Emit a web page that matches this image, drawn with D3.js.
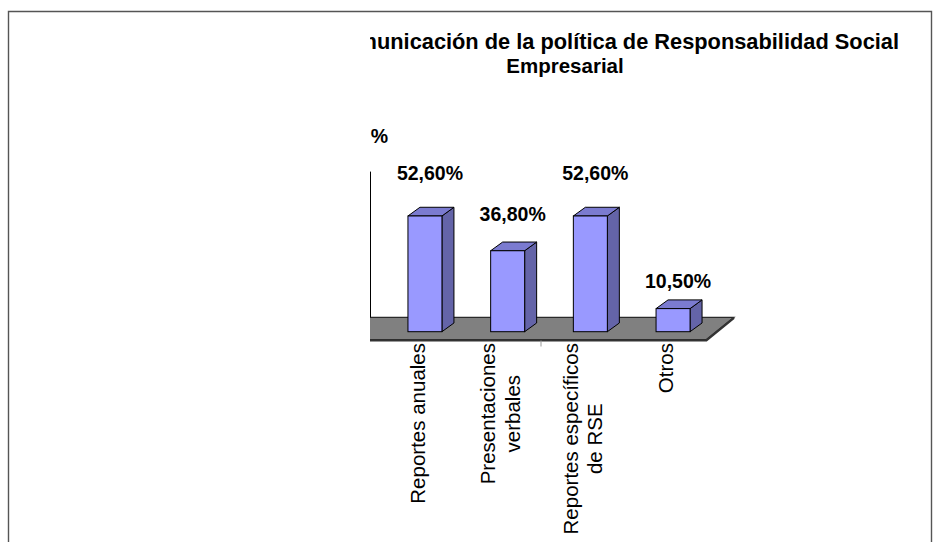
<!DOCTYPE html>
<html>
<head>
<meta charset="utf-8">
<script src="https://cdn.jsdelivr.net/npm/d3@7"></script>
<style>
  html, body { margin: 0; padding: 0; background: #fff; }
  svg { display: block; font-family: "Liberation Sans", Arial, sans-serif; }
</style>
</head>
<body>
<svg id="chart" width="942" height="542"></svg>
<script>
// Chart data
const categories = ["Reportes anuales", "Presentaciones verbales", "Reportes específicos de RSE", "Otros"];
const categoryLines = [["Reportes anuales"], ["Presentaciones", "verbales"], ["Reportes específicos", "de RSE"], ["Otros"]];
const values = [52.6, 36.8, 52.6, 10.5];
const titleLines = ["Comunicación de la política de Responsabilidad Social", "Empresarial"];
const yAxisTitle = "%";

const svg = d3.select("#chart");
const fmt = v => v.toFixed(2).replace(".", ",") + "%";

// Outer frame
svg.append("path")
  .attr("d", "M8.5,542 V11.5 H931.5 V542")
  .attr("fill", "none").attr("stroke", "#555").attr("stroke-width", 1.4);

// Visible chart region
svg.append("defs").append("clipPath").attr("id", "vis")
  .append("rect").attr("x", 370).attr("y", 0).attr("width", 572).attr("height", 542);
const g = svg.append("g").attr("clip-path", "url(#vis)");

// Scales (front plane of the columns)
const x = d3.scaleBand().domain(categories).range([383.6, 714.4]).padding(0);
const y = d3.scaleLinear().domain([0, 66]).range([331.7, 186.5]);
// Label scale: labels sit a little higher in the projected space
const yLabel = d3.scaleLinear().domain([0, 66]).range([314.7, 314.7 - 66 * 2.556]);

const barW = 34;
const depth = { dx: 12, dy: -8.7 };
const floorFront = { dx: -8, dy: 7.8 };
const floorBack = { dx: 19.6, dy: -14.4 };
const [x0, x1] = x.range();
const base = y(0);

// Floor
g.append("path")
  .attr("d", `M300,${base + floorBack.dy} L${x1 + floorBack.dx},${base + floorBack.dy} L${x1 + floorFront.dx},${base + floorFront.dy} L300,${base + floorFront.dy}Z`)
  .attr("fill", "#808080").attr("stroke", "#2a2a2a").attr("stroke-width", 1.2);
g.append("path")
  .attr("d", `M300,${base + floorFront.dy + 1} L${x1 + floorFront.dx},${base + floorFront.dy + 1} L${x1 + floorBack.dx},${base + floorBack.dy + 0.5}`)
  .attr("fill", "none").attr("stroke", "#333").attr("stroke-width", 2.2);

// Value axis line on the back plane
g.append("line")
  .attr("x1", 370.5).attr("x2", 370.5)
  .attr("y1", base + floorBack.dy).attr("y2", y(66) + floorBack.dy - 0.5)
  .attr("stroke", "#000").attr("stroke-width", 1);

// Category tick at the middle of the axis front edge
const midX = x(categories[2]) + floorFront.dx;
g.append("line")
  .attr("x1", midX).attr("x2", midX)
  .attr("y1", base + floorFront.dy + 1).attr("y2", base + floorFront.dy + 7)
  .attr("stroke", "#999").attr("stroke-width", 1);

// 3D columns
const bars = g.selectAll("g.bar").data(categories.map((c, i) => ({ c, v: values[i] })))
  .join("g").attr("class", "bar");
bars.each(function(d) {
  const b = d3.select(this);
  const bx = x(d.c) + (x.bandwidth() - barW) / 2;
  const top = y(d.v);
  const { dx, dy } = depth;
  b.append("path") // side
    .attr("d", `M${bx + barW},${top} L${bx + barW + dx},${top + dy} L${bx + barW + dx},${base + dy} L${bx + barW},${base}Z`)
    .attr("fill", "#6464a8").attr("stroke", "#000").attr("stroke-width", 1);
  b.append("path") // top
    .attr("d", `M${bx},${top} L${bx + dx},${top + dy} L${bx + barW + dx},${top + dy} L${bx + barW},${top}Z`)
    .attr("fill", "#7b7bd0").attr("stroke", "#000").attr("stroke-width", 1);
  b.append("rect") // front
    .attr("x", bx).attr("y", top).attr("width", barW).attr("height", base - top)
    .attr("fill", "#9999ff").attr("stroke", "#000").attr("stroke-width", 1);
});

// Value labels
g.selectAll("text.val").data(values).join("text").attr("class", "val")
  .attr("x", (v, i) => x(categories[i]) + x.bandwidth() / 2 + 5)
  .attr("y", v => yLabel(v))
  .attr("text-anchor", "middle")
  .attr("font-size", 19.5).attr("font-weight", "bold").attr("fill", "#000")
  .text(fmt);

// Category labels, rotated
const lineH = 24.5;
categoryLines.forEach((lines, i) => {
  const cx = x(categories[i]) + x.bandwidth() / 2 - 7.5;
  const lg = g.append("g").attr("transform", `translate(${cx},343) rotate(-90)`);
  const texts = lines.map((t, j) => lg.append("text")
    .attr("y", (j - (lines.length - 1) / 2) * lineH)
    .attr("dy", "0.35em")
    .attr("text-anchor", "middle")
    .attr("font-size", 20.5).attr("fill", "#000")
    .text(t));
  const L = d3.max(texts, t => t.node().getComputedTextLength());
  texts.forEach(t => t.attr("x", -L / 2));
});

// Axis title
g.append("text").attr("x", 388).attr("y", 142.5)
  .attr("text-anchor", "end").attr("font-size", 19.5).attr("font-weight", "bold")
  .text(yAxisTitle);

// Chart title
g.append("text").attr("x", 899).attr("y", 48.5)
  .attr("text-anchor", "end").attr("font-size", 21.8).attr("font-weight", "bold")
  .text(titleLines[0]);
g.append("text").attr("x", 565).attr("y", 72.5)
  .attr("text-anchor", "middle").attr("font-size", 20.5).attr("font-weight", "bold")
  .text(titleLines[1]);
</script>
</body>
</html>
